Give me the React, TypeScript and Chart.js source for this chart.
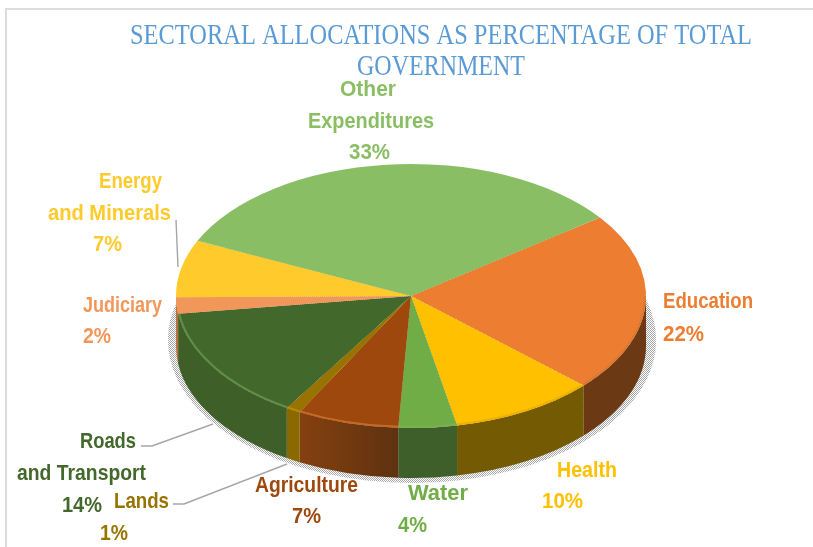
import React, { useEffect, useRef } from "react";
import { Chart, registerables } from "chart.js";

Chart.register(...registerables);

const titleLines = ["SECTORAL ALLOCATIONS AS PERCENTAGE OF TOTAL", "GOVERNMENT"];
const categories = ["Education", "Health", "Water", "Agriculture", "Lands", "Roads and Transport", "Judiciary", "Energy and Minerals", "Other Expenditures"];
const values = [22, 10, 4, 7, 1, 14, 2, 7, 33];
const nameLines = [["Education"], ["Health"], ["Water"], ["Agriculture"], ["Lands"], ["Roads", "and Transport"], ["Judiciary"], ["Energy", "and Minerals"], ["Other", "Expenditures"]];

const topColors = ["#ED7D31", "#FFC000", "#70AD47", "#9E480E", "#997300", "#43682B", "#F1975A", "#FFCA2B", "#8ABE64"];
const sideColors = ["#6B3A14", "#755A04", "#3F5F2A", "#85400F", "#8A6A00", "#3E5F27", "#B9703F", "#A9861C", "#5E8444"];
const sideEndColors = ["#6B3A14", "#755A04", "#3F5F2A", "#5E3210", "#8A6A00", "#3E5F27", "#B9703F", "#A9861C", "#5E8444"];
const rimColors = ["#D97A34", "#EDB200", "#79B050", "#C46A2A", "#B88A00", "#5F8E46", "#F1975A", "#FFCA2B", "#8ABE64"];
const labelColors = ["#ED7D31", "#FFC000", "#70AD47", "#9E480E", "#997300", "#43682B", "#F1975A", "#FFCA2B", "#8ABE64"];

// [left x, baseline y, width] of each line of every label, the percent line last
const labelBoxes = [
  [[663, 308, 90], [663, 341, 41]],
  [[557, 477, 60], [542, 508, 41]],
  [[408, 500, 60], [398, 532, 29]],
  [[255, 492, 103], [292, 523, 29]],
  [[114, 508, 55], [100, 540, 28]],
  [[80, 448, 56], [17, 480, 129], [62, 512, 40]],
  [[83, 312, 79], [83, 343, 28]],
  [[99, 188, 63], [48, 220, 123], [93, 251, 29]],
  [[340, 96, 56], [308, 128, 126], [349, 159, 41]],
];
const titleBoxes = [[130, 44, 622], [357, 75, 168]];
const leaders = [
  [[176, 220], [178, 267]],
  [[141, 446], [152, 446], [213, 424]],
  [[173, 504], [184, 504], [287, 464]],
];

const SQUASH = 132 / 235;
const DEPTH = 50;
const ROTATION = 53.5;

function fitText(ctx: any, text: string, x: number, y: number, w: number) {
  const natural = ctx.measureText(text).width;
  ctx.save();
  ctx.translate(x, y);
  ctx.scale(w / natural, 1);
  ctx.textAlign = "left";
  ctx.textBaseline = "alphabetic";
  ctx.fillText(text, 0, 0);
  ctx.restore();
}

function stipple(ctx: any) {
  const c = document.createElement("canvas");
  c.width = 2;
  c.height = 2;
  const p = c.getContext("2d")!;
  p.fillStyle = "#ffffff";
  p.fillRect(0, 0, 2, 2);
  p.fillStyle = "#a8a8a8";
  p.fillRect(0, 0, 1, 1);
  p.fillRect(1, 1, 1, 1);
  return ctx.createPattern(c, "repeat");
}

function frontRanges(a0: number, a1: number) {
  const out: number[][] = [];
  for (const k of [-2 * Math.PI, 0, 2 * Math.PI]) {
    const lo = Math.max(a0, k);
    const hi = Math.min(a1, Math.PI + k);
    if (hi > lo) out.push([lo, hi]);
  }
  return out;
}

const pie3d = {
  id: "pie3d",
  beforeDraw(chart: any) {
    const { ctx, width, height } = chart;
    ctx.save();
    ctx.fillStyle = "#ffffff";
    ctx.fillRect(0, 0, width, height);
    ctx.strokeStyle = "#dcdcdc";
    ctx.lineWidth = 2;
    ctx.beginPath();
    ctx.moveTo(width, 9);
    ctx.lineTo(6, 9);
    ctx.lineTo(6, height);
    ctx.stroke();
    ctx.restore();
  },
  beforeDatasetsDraw(chart: any) {
    const { ctx } = chart;
    const arcs = chart.getDatasetMeta(0).data;
    const { x: cx, y: cy, outerRadius: r } = arcs[0];
    const ry = r * SQUASH;
    ctx.save();
    ctx.fillStyle = stipple(ctx);
    ctx.beginPath();
    ctx.ellipse(cx + 1, cy + DEPTH - 6, r + 9, ry + 11, 0, 0, Math.PI * 2);
    ctx.fill();
    arcs.forEach((arc: any, i: number) => {
      frontRanges(arc.startAngle, arc.endAngle).forEach(([lo, hi]) => {
        const g = ctx.createLinearGradient(cx + r * Math.cos(lo), 0, cx + r * Math.cos(hi), 0);
        g.addColorStop(0, sideEndColors[i]);
        g.addColorStop(1, sideColors[i]);
        ctx.fillStyle = g;
        ctx.beginPath();
        ctx.ellipse(cx, cy, r, ry, 0, lo, hi);
        ctx.ellipse(cx, cy + DEPTH, r, ry, 0, hi, lo, true);
        ctx.closePath();
        ctx.fill();
      });
    });
    ctx.restore();
    ctx.save();
    ctx.translate(0, cy);
    ctx.scale(1, SQUASH);
    ctx.translate(0, -cy);
  },
  afterDatasetsDraw(chart: any) {
    const { ctx } = chart;
    ctx.restore();
    const arcs = chart.getDatasetMeta(0).data;
    const { x: cx, y: cy, outerRadius: r } = arcs[0];
    const ry = r * SQUASH;
    ctx.save();
    ctx.lineWidth = 2;
    arcs.forEach((arc: any, i: number) => {
      frontRanges(arc.startAngle, arc.endAngle).forEach(([lo, hi]) => {
        ctx.strokeStyle = rimColors[i];
        ctx.beginPath();
        ctx.ellipse(cx, cy, r - 1, ry - 1, 0, lo, hi);
        ctx.stroke();
      });
    });
    ctx.strokeStyle = "#A6A6A6";
    ctx.lineWidth = 1.4;
    leaders.forEach((pts) => {
      ctx.beginPath();
      pts.forEach(([x, y], j) => (j ? ctx.lineTo(x, y) : ctx.moveTo(x, y)));
      ctx.stroke();
    });
    ctx.fillStyle = "#5B9BD5";
    ctx.font = '29px "Liberation Serif"';
    titleLines.forEach((t, i) => fitText(ctx, t, titleBoxes[i][0], titleBoxes[i][1], titleBoxes[i][2]));
    ctx.font = 'bold 21.5px "Liberation Sans"';
    categories.forEach((_, i) => {
      const lines = [...nameLines[i], `${values[i]}%`];
      ctx.fillStyle = labelColors[i];
      lines.forEach((t, j) => {
        const [x, y, w] = labelBoxes[i][j];
        fitText(ctx, t, x, y, w);
      });
    });
    ctx.restore();
  },
};

export default function App() {
  const ref = useRef<HTMLCanvasElement>(null);
  useEffect(() => {
    const chart = new Chart(ref.current!, {
      type: "pie",
      data: {
        labels: categories,
        datasets: [{ data: values, backgroundColor: topColors, borderWidth: 0, clip: false } as any],
      },
      options: {
        animation: false,
        responsive: false,
        rotation: ROTATION,
        layout: { padding: { left: 176, right: 167, top: 61, bottom: 16 } },
        plugins: { legend: { display: false }, title: { display: false }, tooltip: { enabled: false } },
      },
      plugins: [pie3d],
    } as any);
    return () => chart.destroy();
  }, []);
  return (
    <div style={{ position: "absolute", left: 0, top: 0, width: 813, height: 547, overflow: "hidden" }}>
      <canvas ref={ref} width={813} height={547} style={{ display: "block", filter: "blur(0.6px)" }} />
    </div>
  );
}
